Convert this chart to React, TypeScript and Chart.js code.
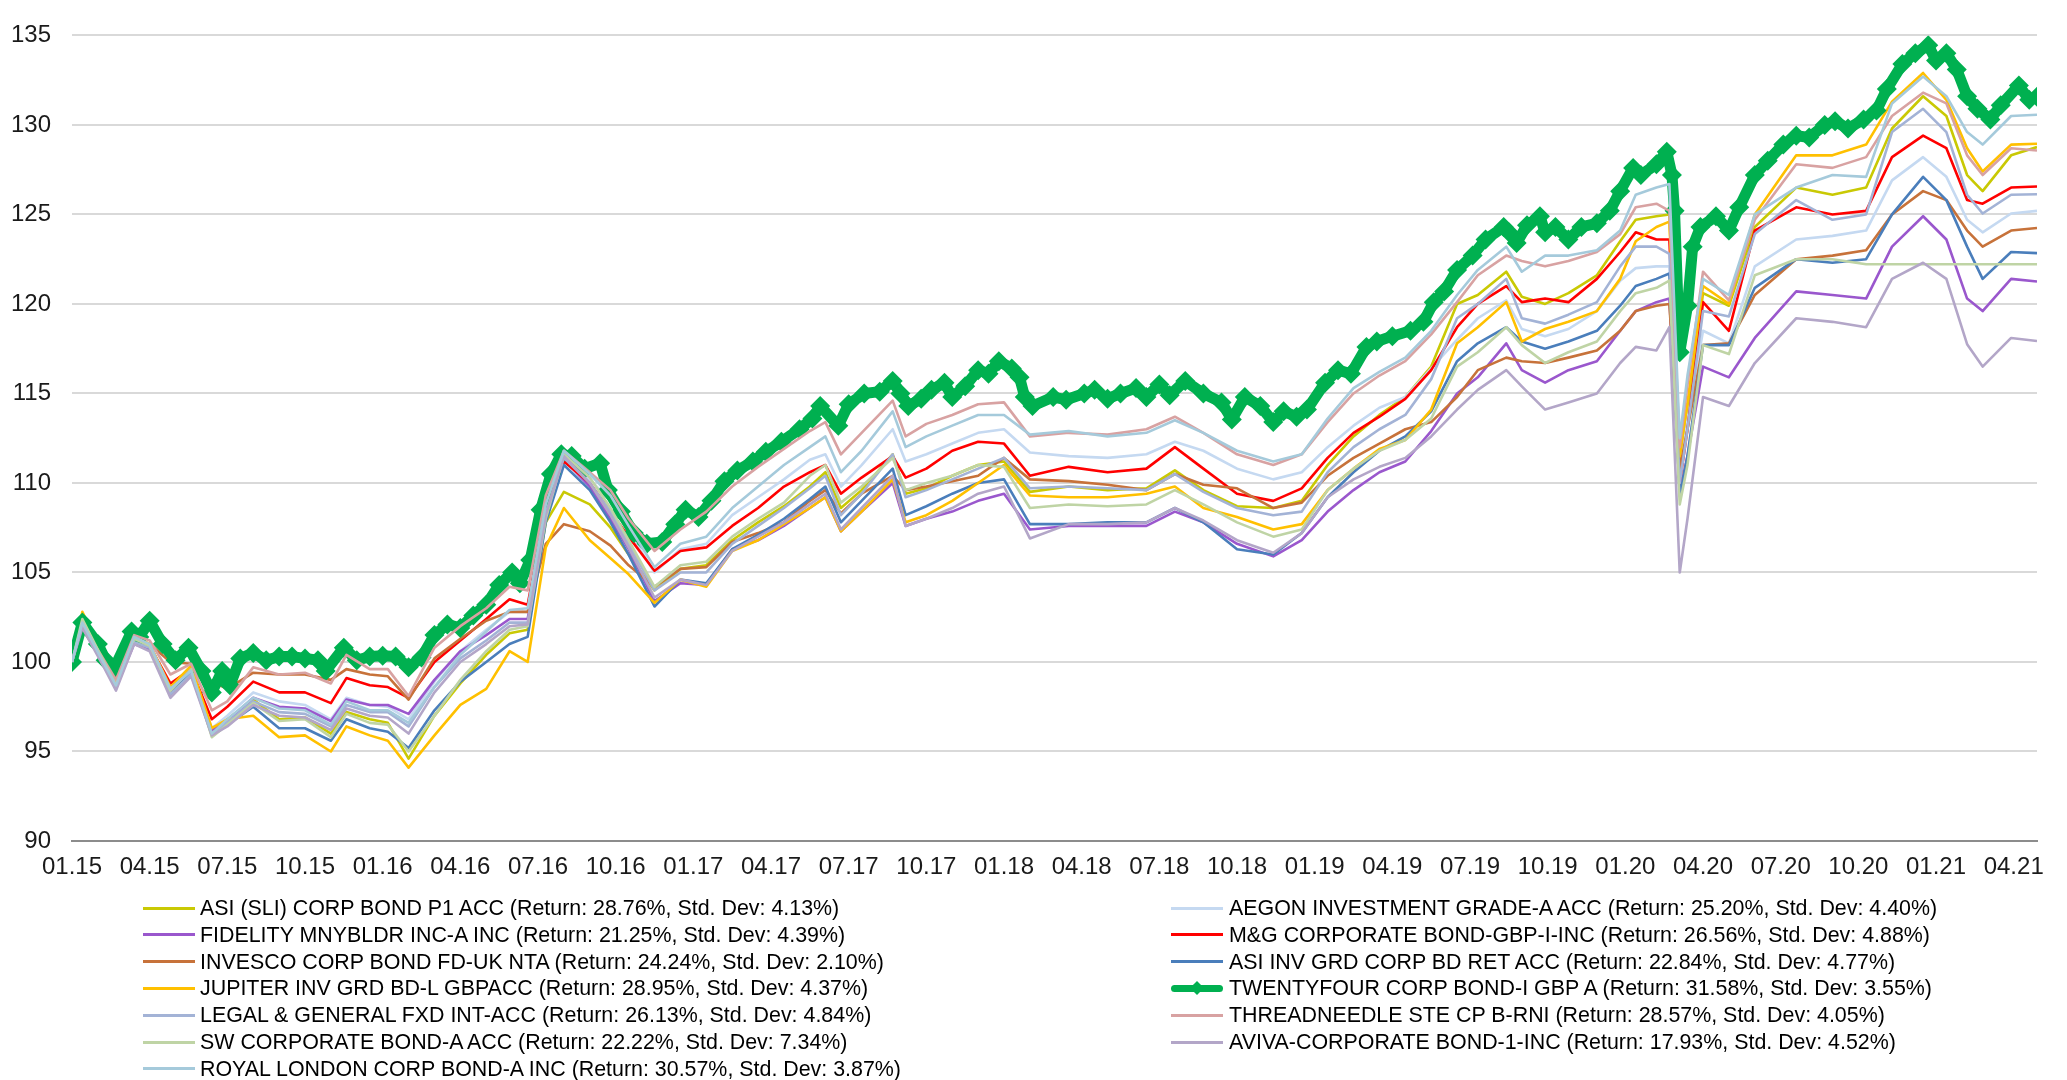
import React, { useEffect, useRef } from "react";
import { Chart, registerables } from "chart.js";

Chart.register(...registerables);

const TICK_LABELS = ["01.15","04.15","07.15","10.15","01.16","04.16","07.16","10.16","01.17","04.17","07.17","10.17","01.18","04.18","07.18","10.18","01.19","04.19","07.19","10.19","01.20","04.20","07.20","10.20","01.21","04.21"];

// months since 01.2015
const MONTHS = [0,0.4,1.2,1.7,2.4,3.0,3.8,4.6,5.4,6.0,7.0,8.0,9.0,10.0,10.6,11.5,12.2,13.0,14.0,15.0,16.0,16.9,17.6,18.3,19.0,20.0,20.8,21.5,22.5,23.5,24.5,25.5,26.5,27.5,28.5,29.1,29.7,30.5,31.7,32.2,33.0,34.0,35.0,36.0,37.0,38.5,40.0,41.5,42.6,43.7,45.0,46.4,47.5,48.5,49.5,50.5,51.5,52.5,53.5,54.3,55.4,56.0,56.9,57.8,58.9,59.8,60.4,61.2,61.7,62.1,62.4,63.0,64.0,65.0,66.6,68.0,69.3,70.3,71.5,72.4,73.2,73.8,74.9,75.9];

const ASI_SLI = [100,102.3,100.0,98.7,101.3,100.9,98.3,99.6,96.0,96.8,97.9,96.8,96.9,96.0,97.2,96.8,96.6,94.6,97.0,98.8,100.4,101.6,101.8,107.8,109.5,108.8,107.5,106.0,104.0,105.2,105.4,106.8,107.8,108.7,109.8,110.6,108.6,109.6,111.6,109.4,109.7,110.4,111.0,111.2,109.5,109.8,109.6,109.7,110.7,109.6,108.7,108.6,109.0,111.0,112.6,113.8,114.8,116.5,120.0,120.5,121.8,120.4,120.0,120.6,121.6,123.5,124.7,124.9,125.0,110.8,114.0,120.6,119.9,124.3,126.5,126.1,126.5,129.8,131.6,130.5,127.2,126.3,128.3,128.76];
const FIDELITY = [100,102.0,99.9,98.6,101.0,100.7,98.2,99.3,96.2,96.7,98.0,97.5,97.4,96.7,97.9,97.6,97.6,97.1,99.0,100.6,101.5,102.4,102.4,108.3,111.3,109.8,108.0,106.3,103.4,104.4,104.3,106.3,106.8,107.6,108.6,109.2,107.3,108.4,110.0,107.6,108.0,108.4,109.0,109.4,107.4,107.6,107.6,107.6,108.4,107.8,106.6,105.9,106.8,108.4,109.6,110.6,111.2,112.9,115.0,115.9,117.8,116.3,115.6,116.3,116.8,118.5,119.6,120.1,120.3,109.5,111.5,116.5,115.9,118.1,120.7,120.5,120.3,123.2,124.9,123.6,120.3,119.6,121.4,121.25];
const INVESCO = [100,101.8,100.3,99.2,101.2,101.0,100.0,99.9,98.9,98.5,99.4,99.3,99.3,99.0,99.6,99.3,99.2,97.9,100.2,101.3,102.3,102.8,102.8,106.6,107.7,107.3,106.5,105.4,104.2,105.2,105.3,106.7,107.2,107.8,109.0,109.6,108.3,109.4,110.4,109.6,109.8,110.1,110.4,111.4,110.2,110.1,109.9,109.6,110.5,109.9,109.7,108.6,108.9,110.4,111.4,112.2,113.0,113.4,114.8,116.3,117.0,116.8,116.7,117.0,117.4,118.5,119.6,119.9,120.0,110.8,113.0,117.7,117.8,120.5,122.5,122.7,123.0,125.0,126.3,125.8,124.1,123.2,124.1,124.24];
const JUPITER = [100,102.8,100.4,98.8,101.5,101.0,98.6,99.8,96.3,96.8,97.0,95.8,95.9,95.0,96.4,95.9,95.6,94.1,95.9,97.6,98.5,100.6,100.0,106.4,108.6,106.8,105.8,104.9,103.3,104.6,104.2,106.2,106.8,107.7,108.6,109.2,107.3,108.4,110.2,107.8,108.2,109.0,110.0,111.0,109.3,109.2,109.2,109.4,109.8,108.6,108.1,107.4,107.7,109.6,110.8,111.9,112.4,114.1,117.8,118.7,120.1,117.9,118.6,119.0,119.6,121.4,123.5,124.3,124.6,111.5,114.5,121.0,120.0,125.0,128.3,128.3,128.9,131.3,132.9,131.4,128.7,127.4,128.9,128.95];
const LEGAL_GENERAL = [100,102.1,99.9,98.5,101.1,100.8,98.2,99.3,96.0,96.6,97.8,97.2,97.1,96.4,97.6,97.2,97.2,96.4,98.6,100.2,101.2,102.2,102.2,108.3,111.4,110.0,108.4,106.6,104.0,105.0,105.0,106.6,107.6,108.6,109.7,110.4,108.2,109.4,111.6,109.2,109.6,110.2,110.8,111.4,109.7,109.8,109.7,109.6,110.5,109.5,108.6,108.2,108.4,110.6,112.0,113.0,113.8,115.8,119.2,120.0,121.4,119.2,118.9,119.4,120.1,122.1,123.2,123.2,122.8,110.0,113.0,119.6,119.3,123.9,125.8,124.7,125.0,129.6,130.9,129.6,126.1,125.05,126.1,126.13];
const SW_CORP = [100,102.4,100.1,98.7,101.3,100.9,98.4,99.6,95.8,96.5,97.7,96.7,96.8,95.8,97.1,96.6,96.5,95.0,97.0,99.0,100.6,101.8,102.0,108.0,111.6,110.3,108.6,106.8,104.2,105.4,105.6,107.0,108.0,108.9,110.4,111.0,108.9,109.8,111.4,109.6,110.0,110.4,111.0,110.9,108.6,108.8,108.7,108.8,109.6,108.8,107.8,107.0,107.4,109.6,110.8,111.8,112.4,113.6,116.5,117.3,118.7,117.7,116.7,117.3,117.9,119.6,120.6,120.9,121.3,108.8,111.0,117.7,117.2,121.6,122.5,122.5,122.22,122.22,122.22,122.22,122.22,122.22,122.22,122.22];
const ROYAL_LONDON = [100,102.2,100.0,98.7,101.4,101.0,98.5,99.5,96.0,96.8,98.0,97.4,97.3,96.5,97.8,97.3,97.3,96.6,98.6,100.4,101.7,102.9,103.0,108.8,111.8,110.5,109.3,107.6,105.3,106.6,107.0,108.6,109.8,111.0,112.0,112.6,110.6,111.8,114.0,112.0,112.6,113.2,113.8,113.8,112.7,112.9,112.6,112.8,113.5,112.8,111.8,111.2,111.6,113.6,115.3,116.2,117.0,118.5,120.5,121.9,123.2,121.8,122.7,122.7,123.0,124.1,126.1,126.5,126.7,112.5,116.0,121.4,120.5,125.0,126.5,127.2,127.1,131.2,132.7,131.6,129.6,128.9,130.5,130.57];
const AEGON = [100,102.0,100.0,98.8,101.2,100.9,98.6,99.6,96.3,97.0,98.3,97.8,97.6,96.8,98.0,97.6,97.5,96.8,98.9,100.6,101.8,102.8,102.8,108.5,111.3,110.2,109.0,107.3,105.0,106.3,106.6,108.2,109.2,110.2,111.3,111.6,109.8,111.0,113.0,111.2,111.6,112.2,112.8,113.0,111.7,111.5,111.4,111.6,112.3,111.8,110.8,110.2,110.6,112.0,113.2,114.2,114.8,116.4,118.0,119.2,120.2,118.6,118.2,118.6,119.6,121.3,122.0,122.1,122.1,110.5,113.5,118.5,117.8,122.1,123.6,123.8,124.1,126.9,128.2,127.1,124.7,124.0,125.05,125.2];
const MG_CORP = [100,102.1,100.0,98.8,101.2,100.9,98.8,99.6,96.8,97.5,98.9,98.3,98.3,97.7,99.1,98.7,98.6,98.0,100.0,101.2,102.4,103.5,103.2,108.6,111.2,110.0,108.4,107.0,105.1,106.2,106.4,107.6,108.6,109.8,110.6,111.0,109.4,110.3,111.5,110.3,110.8,111.8,112.3,112.2,110.4,110.9,110.6,110.8,112.0,110.8,109.4,109.0,109.7,111.4,112.8,113.7,114.7,116.3,118.7,120.0,121.0,120.1,120.3,120.1,121.4,122.9,124.0,123.6,123.6,110.0,113.0,120.1,118.5,124.1,125.4,125.0,125.2,128.2,129.4,128.7,125.8,125.6,126.5,126.56];
const ASI_INV = [100,102.2,100.0,98.6,101.2,100.8,98.2,99.4,95.9,96.5,97.5,96.3,96.3,95.6,96.8,96.3,96.1,95.2,97.3,98.9,100.0,101.0,101.4,107.8,111.0,109.6,107.8,106.0,103.1,104.6,104.4,106.3,107.1,108.0,109.1,109.8,107.8,109.0,110.8,108.2,108.7,109.4,110.0,110.2,107.7,107.7,107.8,107.8,108.6,107.8,106.3,106.0,107.2,109.2,110.6,111.8,112.6,114.0,116.8,117.8,118.7,117.9,117.5,117.9,118.5,119.9,121.0,121.4,121.7,109.3,111.5,117.7,117.7,120.9,122.5,122.3,122.5,125.0,127.1,125.8,123.2,121.4,122.9,122.84];
const THREADNEEDLE = [100,102.1,100.2,99.0,101.5,101.2,99.3,99.9,97.3,97.8,99.7,99.3,99.4,98.8,100.4,99.6,99.6,98.1,100.8,102.0,103.0,104.2,104.0,109.3,111.8,110.6,109.6,108.0,106.2,107.4,108.4,109.8,110.9,111.9,112.9,113.4,111.6,112.8,114.6,112.6,113.3,113.8,114.4,114.5,112.6,112.8,112.7,113.0,113.7,112.8,111.6,111.0,111.6,113.4,115.0,116.0,116.8,118.3,120.1,121.6,122.7,122.4,122.1,122.4,122.9,123.9,125.4,125.6,125.2,112.0,115.5,121.8,120.2,124.7,127.8,127.6,128.2,130.5,131.8,131.2,128.3,127.2,128.7,128.57];
const AVIVA = [100,101.9,99.8,98.4,101.0,100.6,98.0,99.2,95.9,96.4,97.6,97.0,96.9,96.2,97.4,97.0,96.9,96.0,98.3,100.0,101.0,102.0,102.1,108.2,111.5,110.0,108.2,106.4,103.6,104.6,104.3,106.2,107.0,107.8,108.8,109.4,107.4,108.6,110.4,107.6,108.0,108.6,109.4,109.8,106.9,107.7,107.7,107.8,108.6,107.9,106.8,106.1,107.2,109.2,110.2,110.9,111.4,112.6,114.1,115.2,116.3,115.4,114.1,114.5,115.0,116.7,117.6,117.4,118.7,105.0,108.0,114.8,114.3,116.7,119.2,119.0,118.7,121.4,122.3,121.4,117.75,116.5,118.1,117.93];

const TWENTYFOUR_MONTHS = [0,0.4,1.0,1.3,1.65,2.3,2.6,3.0,3.5,4.0,4.5,5.0,5.4,5.8,6.1,6.5,7.0,7.5,8.0,8.5,9.0,9.5,9.8,10.5,11.0,11.5,12.0,12.5,13.0,13.5,14.0,14.5,15.0,15.5,16.0,16.5,17.0,17.3,17.7,18.1,18.5,18.9,19.3,19.8,20.4,20.7,21.2,21.7,22.2,22.8,23.3,23.7,24.2,24.7,25.2,25.7,26.3,26.8,27.4,28.1,28.6,28.9,29.6,30.0,30.6,31.2,31.7,32.0,32.3,32.8,33.2,33.7,34.0,34.5,35.0,35.4,35.8,36.3,36.6,36.8,37.1,37.9,38.4,39.1,39.5,40.0,40.5,41.1,41.5,42.0,42.4,43.0,43.7,44.4,44.8,45.3,45.9,46.4,46.8,47.3,47.7,48.4,48.9,49.4,50.0,50.4,51.0,51.7,52.2,52.6,53.0,53.5,54.1,54.6,55.3,55.5,55.8,56.2,56.7,56.9,57.3,57.8,58.3,58.9,59.4,59.8,60.3,60.6,61.2,61.6,61.8,61.9,62.1,62.4,62.6,62.9,63.5,64.0,64.4,65.0,65.5,66.1,66.6,67.1,67.7,68.1,68.6,69.2,69.7,70.1,70.7,71.2,71.7,72.0,72.4,72.8,73.2,73.6,74.1,74.5,75.2,75.6,75.9];
const TWENTYFOUR = [100,102.2,101.0,100.1,99.7,101.7,101.4,102.3,101.0,100.1,100.8,99.5,98.3,99.5,98.7,100.2,100.5,100.1,100.3,100.3,100.2,100.1,99.5,100.8,100.1,100.3,100.35,100.3,99.7,100.25,101.5,102.1,101.9,102.6,103.2,104.3,105.0,104.4,105.7,108.5,110.5,111.6,111.5,110.8,111.1,109.6,108.4,107.2,106.6,106.7,107.7,108.5,108.1,109.0,110.1,110.7,111.2,111.75,112.3,113.0,113.6,114.3,113.2,114.4,115.0,115.1,115.7,115.0,114.3,114.7,115.2,115.6,114.8,115.4,116.3,116.1,116.8,116.4,115.9,114.8,114.3,114.8,114.65,115.0,115.2,114.7,115.0,115.3,114.8,115.5,114.9,115.7,115.0,114.5,113.55,114.8,114.3,113.4,114.0,113.7,114.1,115.6,116.3,116.1,117.6,117.9,118.2,118.5,119.0,120.1,120.7,121.9,122.7,123.6,124.3,124.0,123.4,124.4,124.9,124.0,124.3,123.6,124.3,124.5,125.2,126.3,127.6,127.2,127.8,128.5,127.2,125.2,117.3,119.9,123.2,124.3,124.9,124.1,125.4,127.2,128.0,128.9,129.4,129.3,130.0,130.2,129.8,130.3,130.8,132.0,133.4,134.0,134.45,133.6,134.0,133.1,131.6,130.9,130.3,131.1,132.2,131.4,131.58];

const NAMES = ["ASI (SLI) CORP BOND P1 ACC","AEGON INVESTMENT GRADE-A ACC","FIDELITY MNYBLDR INC-A INC","M&G CORPORATE BOND-GBP-I-INC","INVESCO CORP BOND FD-UK NTA","ASI INV GRD CORP BD RET ACC","JUPITER INV GRD BD-L GBPACC","TWENTYFOUR CORP BOND-I GBP A","LEGAL & GENERAL FXD INT-ACC","THREADNEEDLE STE CP B-RNI","SW CORPORATE BOND-A ACC","AVIVA-CORPORATE BOND-1-INC","ROYAL LONDON CORP BOND-A INC"];
const RETURNS = ["28.76%","25.20%","21.25%","26.56%","24.24%","22.84%","28.95%","31.58%","26.13%","28.57%","22.22%","17.93%","30.57%"];
const STD_DEVS = ["4.13%","4.40%","4.39%","4.88%","2.10%","4.77%","4.37%","3.55%","4.84%","4.05%","7.34%","4.52%","3.87%"];
const COLORS = ["#c9c904","#c5d9f1","#9a57cd","#ff0000","#c7723a","#4a7ebb","#ffc000","#00b050","#a3b3d6","#d8a2a2","#bfd4a5","#b3a6c8","#a5cadb"];
const SERIES_VALUES = [ASI_SLI, AEGON, FIDELITY, MG_CORP, INVESCO, ASI_INV, JUPITER, TWENTYFOUR, LEGAL_GENERAL, THREADNEEDLE, SW_CORP, AVIVA, ROYAL_LONDON];
const GREEN_INDEX = 7;

const LEFT_COLUMN = [0, 2, 4, 6, 8, 10, 12];
const RIGHT_COLUMN = [1, 3, 5, 7, 9, 11];

const FONT = "'Liberation Sans', Arial, Helvetica, sans-serif";

export default function App() {
  const canvasRef = useRef<HTMLCanvasElement | null>(null);

  useEffect(() => {
    document.body.style.margin = "0";
    document.body.style.overflow = "hidden";
    const canvas = canvasRef.current;
    if (!canvas) return;
    const datasets = SERIES_VALUES.map((vals, i) => {
      const isGreen = i === GREEN_INDEX;
      const xs = isGreen ? TWENTYFOUR_MONTHS : MONTHS;
      return {
        label: NAMES[i],
        data: vals.map((v, k) => ({ x: xs[k], y: v })),
        borderColor: COLORS[i],
        backgroundColor: COLORS[i],
        borderWidth: isGreen ? 11 : 2.6,
        pointRadius: isGreen ? 10 : 0,
        pointStyle: "rectRot",
        pointBorderWidth: 0,
        pointBackgroundColor: COLORS[i],
        borderJoinStyle: "round",
        tension: 0,
        order: SERIES_VALUES.length - i,
      };
    });
    const chart = new Chart(canvas, {
      type: "line",
      data: { datasets: datasets as any },
      options: {
        responsive: false,
        animation: false,
        devicePixelRatio: 1,
        layout: { padding: { left: 0, right: 30, top: 18, bottom: 194 } },
        plugins: { legend: { display: false }, tooltip: { enabled: false } },
        scales: {
          x: {
            type: "linear",
            min: 0,
            max: 75.9,
            afterFit: (s: any) => { s.height = 45; },
            grid: { display: false, drawTicks: false },
            border: { display: true, color: "#8c8c8c", width: 2 },
            ticks: {
              stepSize: 3,
              autoSkip: false,
              maxRotation: 0,
              includeBounds: false,
              padding: 12,
              color: "#1a1a1a",
              font: { family: FONT, size: 24 },
              callback: (v: any) => {
                const n = Number(v);
                const i = Math.round(n / 3);
                return Math.abs(n - i * 3) < 1e-6 && TICK_LABELS[i] ? TICK_LABELS[i] : "";
              },
            },
          },
          y: {
            min: 90,
            max: 135,
            afterFit: (s: any) => { s.width = 72; },
            grid: { color: "#d9d9d9", lineWidth: 2, drawTicks: false },
            border: { display: false },
            ticks: {
              stepSize: 5,
              padding: 21,
              color: "#1a1a1a",
              font: { family: FONT, size: 24 },
            },
          },
        },
      } as any,
    });
    return () => chart.destroy();
  }, []);

  const legendItem = (idx: number, col: number, row: number) => {
    const cy = 908 + row * 26.8;
    const lineLeft = col === 0 ? 143 : 1171;
    const textLeft = col === 0 ? 200 : 1229;
    const isGreen = idx === GREEN_INDEX;
    return (
      <div key={idx}>
        <div
          style={{
            position: "absolute",
            left: lineLeft,
            top: cy - (isGreen ? 3.5 : 1.5),
            width: 52,
            height: isGreen ? 7 : 3,
            background: COLORS[idx],
            borderRadius: isGreen ? 3.5 : 0,
          }}
        />
        {isGreen && (
          <div
            style={{
              position: "absolute",
              left: lineLeft + 26 - 5,
              top: cy - 5,
              width: 10,
              height: 10,
              background: COLORS[idx],
              transform: "rotate(45deg)",
            }}
          />
        )}
        <div
          style={{
            position: "absolute",
            left: textLeft,
            top: cy - 13,
            height: 26,
            lineHeight: "26px",
            fontFamily: FONT,
            fontSize: 21.4,
            color: "#000",
            whiteSpace: "nowrap",
          }}
        >
          {`${NAMES[idx]} (Return: ${RETURNS[idx]}, Std. Dev: ${STD_DEVS[idx]})`}
        </div>
      </div>
    );
  };

  return (
    <div style={{ position: "relative", width: 2067, height: 1080, overflow: "hidden", background: "#fff" }}>
      <canvas ref={canvasRef} width={2067} height={1080} style={{ position: "absolute", left: 0, top: 0, width: 2067, height: 1080 }} />
      {LEFT_COLUMN.map((idx, r) => legendItem(idx, 0, r))}
      {RIGHT_COLUMN.map((idx, r) => legendItem(idx, 1, r))}
    </div>
  );
}
